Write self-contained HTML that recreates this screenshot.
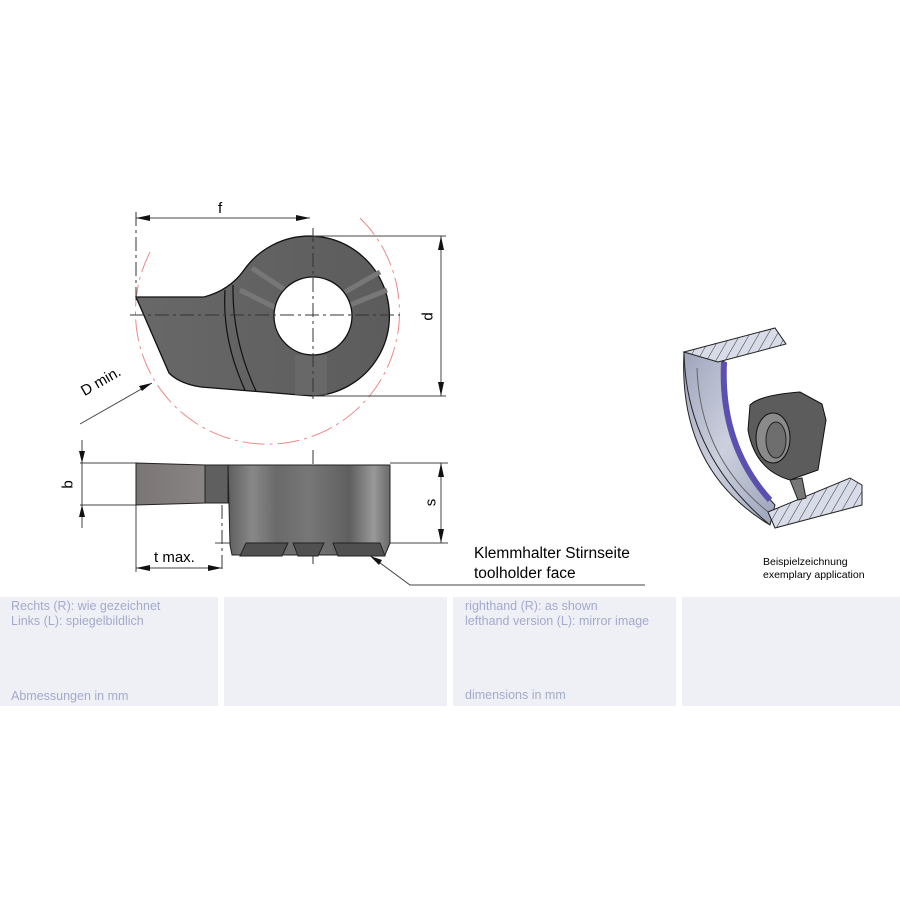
<!DOCTYPE html>
<html><head><meta charset="utf-8"><style>
body{margin:0;width:900px;height:900px;background:#fff;position:relative;overflow:hidden;font-family:"Liberation Sans",sans-serif}
.p{position:absolute;top:597px;height:109px;background:#eef0f6}
.t{position:absolute;color:#a4aacb;font-size:12.5px;line-height:15px;font-family:"Liberation Sans Narrow","Liberation Sans",sans-serif}
</style></head><body>
<svg width="900" height="900" style="position:absolute;left:0;top:0">
<defs>
<linearGradient id="g1" x1="0" x2="1"><stop offset="0" stop-color="#686868"/><stop offset="1" stop-color="#5c5c5c"/></linearGradient>
<linearGradient id="g2" x1="0" x2="1"><stop offset="0" stop-color="#7a7474"/><stop offset="1" stop-color="#8a8585"/></linearGradient>
<linearGradient id="g3" x1="0" x2="1"><stop offset="0" stop-color="#5e5e5e"/><stop offset=".15" stop-color="#888"/><stop offset=".3" stop-color="#6a6a6a"/><stop offset=".5" stop-color="#777"/><stop offset=".75" stop-color="#5f5f5f"/><stop offset=".9" stop-color="#999"/><stop offset="1" stop-color="#6a6a6a"/></linearGradient>
<linearGradient id="rg" x1="0" x2="1" y1="0" y2="1"><stop offset="0" stop-color="#a0a5bd"/><stop offset=".5" stop-color="#ccd0de"/><stop offset="1" stop-color="#9ca2ba"/></linearGradient>
<pattern id="hat" width="8" height="8" patternUnits="userSpaceOnUse" patternTransform="rotate(30)"><rect width="8" height="8" fill="#d8dbe8"/><line x1="0" y1="0" x2="0" y2="8" stroke="#333" stroke-width="1"/></pattern>
</defs>
<path d="M360,218 A132,132 0 1 1 150,252" fill="none" stroke="#e88" stroke-width="1" stroke-dasharray="22 5 3 5"/>
<path d="M136,297 L204,297 Q230,290 244,270 A80,80 0 1 1 313,396 L300,395 L201,387 Q180,384 169,373 Z" fill="url(#g1)" stroke="#111" stroke-width="1.3"/>
<path d="M225,290 Q222,340 245,390" fill="none" stroke="#111" stroke-width="1.2"/>
<path d="M233,285 Q232,340 256,391" fill="none" stroke="#111" stroke-width="1.2"/>
<path d="M252,268 L285,290 M240,290 L280,310 M345,292 L380,272 M350,305 L387,290" stroke="#777" stroke-width="5"/>
<rect x="295" y="355" width="32" height="40" fill="#6e6e6e" opacity=".6"/>
<circle cx="313" cy="316" r="39" fill="#fff" stroke="#111" stroke-width="1.3"/>
<g stroke="#333" stroke-width="1" stroke-dasharray="14 4 3 4" fill="none">
<line x1="130" y1="315" x2="400" y2="315"/><line x1="313" y1="228" x2="313" y2="403"/>
<line x1="313" y1="450" x2="313" y2="567"/>
<line x1="136" y1="212" x2="136" y2="300"/>
<line x1="222" y1="505" x2="222" y2="572"/>
</g>
<g stroke="#444" stroke-width="1" fill="none">
<line x1="136" y1="218" x2="310" y2="218"/>
<line x1="313" y1="236" x2="446" y2="236"/><line x1="313" y1="396" x2="446" y2="396"/>
<line x1="441" y1="236" x2="441" y2="396"/>
<line x1="80" y1="463" x2="136" y2="463"/><line x1="80" y1="505" x2="136" y2="505"/>
<line x1="82" y1="440" x2="82" y2="528"/>
<line x1="390" y1="463" x2="448" y2="463"/><line x1="215" y1="543" x2="448" y2="543"/>
<line x1="441" y1="463" x2="441" y2="543"/>
<line x1="136" y1="505" x2="136" y2="572"/>
<line x1="136" y1="568" x2="222" y2="568"/>
<line x1="80" y1="424" x2="152" y2="383"/>
<polyline points="372,557 410,585 645,585"/>
</g>
<g fill="#111">
<path d="M136,218 l14,-3 v6z"/><path d="M310,218 l-14,-3 v6z"/>
<path d="M441,236 l-3,14 h6z"/><path d="M441,396 l-3,-14 h6z"/>
<path d="M82,463 l-3,-12 h6z"/><path d="M82,505 l-3,12 h6z"/>
<path d="M441,463 l-3,14 h6z"/><path d="M441,543 l-3,-14 h6z"/>
<path d="M136,568 l14,-3 v6z"/><path d="M222,568 l-14,-3 v6z"/>
<path d="M152,383 l-13,3 l3,5z"/><path d="M370,556 l12,4 l-3,5z"/>
</g>
<path d="M136,463 L205,465 L205,503 L136,505Z" fill="url(#g2)" stroke="#222"/>
<path d="M205,465 L228,465 L228,503 L205,503Z" fill="#5f5f5f" stroke="#222"/>
<path d="M228,465 L390,465 L390,543 L385,555 L232,555 L230,545 Z" fill="url(#g3)" stroke="#222"/>
<path d="M246,543 L288,543 L282,556 L240,556Z M293,543 L324,543 L318,556 L298,556Z M333,543 L380,543 L385,556 L338,556Z" fill="#505050" stroke="#222"/>
<!-- 3D illustration -->
<path d="M684,352 L725,362 Q722,450 775,505 L770,525 Q678,470 684,352Z" fill="url(#rg)" stroke="#222"/>
<path d="M684,352 Q686,455 770,525" fill="none" stroke="#222"/>
<path d="M697,368 Q700,460 772,515" fill="none" stroke="#666"/>
<path d="M684,352 L775,328 L786,344 L718,362 Z" fill="url(#hat)" stroke="#222"/>
<path d="M768,512 L850,478 L862,485 L862,505 L775,528 Z" fill="url(#hat)" stroke="#222"/>
<path d="M724,362 Q720,445 770,500" fill="none" stroke="#5a50b0" stroke-width="6"/>
<path d="M750,405 Q760,395 800,392 L822,404 L826,420 L818,470 L790,480 Q755,470 748,430Z" fill="#5c5c5c" stroke="#111"/>
<ellipse cx="773" cy="438" rx="17" ry="25" fill="#8a8a8a" stroke="#111"/>
<ellipse cx="776" cy="440" rx="10" ry="18" fill="#6e6e6e" stroke="#222"/>
<path d="M790,480 L798,500 L806,498 L802,478Z" fill="#777" stroke="#222"/>
</svg>
<div style="position:absolute;left:218px;top:200px;font-size:15px">f</div>
<div style="position:absolute;left:424px;top:308px;font-size:15px;transform:rotate(-90deg)">d</div>
<div style="position:absolute;left:64px;top:476px;font-size:15px;transform:rotate(-90deg)">b</div>
<div style="position:absolute;left:427px;top:494px;font-size:15px;transform:rotate(-90deg)">s</div>
<div style="position:absolute;left:78px;top:385px;font-size:15px;transform:rotate(-30deg);transform-origin:left top">D min.</div>
<div style="position:absolute;left:154px;top:549px;font-size:15px">t max.</div>
<div style="position:absolute;left:474px;top:544px;font-size:15.5px;line-height:20px">Klemmhalter Stirnseite<br>toolholder face</div>
<div style="position:absolute;left:763px;top:556px;font-size:10.5px;line-height:13px">Beispielzeichnung<br>exemplary application</div>
<div class="p" style="left:0;width:218px"></div><div class="p" style="left:224px;width:223px"></div>
<div class="p" style="left:453px;width:223px"></div><div class="p" style="left:682px;width:218px"></div>
<div class="t" style="left:11px;top:599px">Rechts (R): wie gezeichnet<br>Links (L): spiegelbildlich</div>
<div class="t" style="left:11px;top:689px">Abmessungen in mm</div>
<div class="t" style="left:465px;top:599px">righthand (R): as shown<br>lefthand version (L): mirror image</div>
<div class="t" style="left:465px;top:688px">dimensions in mm</div>
</body></html>
